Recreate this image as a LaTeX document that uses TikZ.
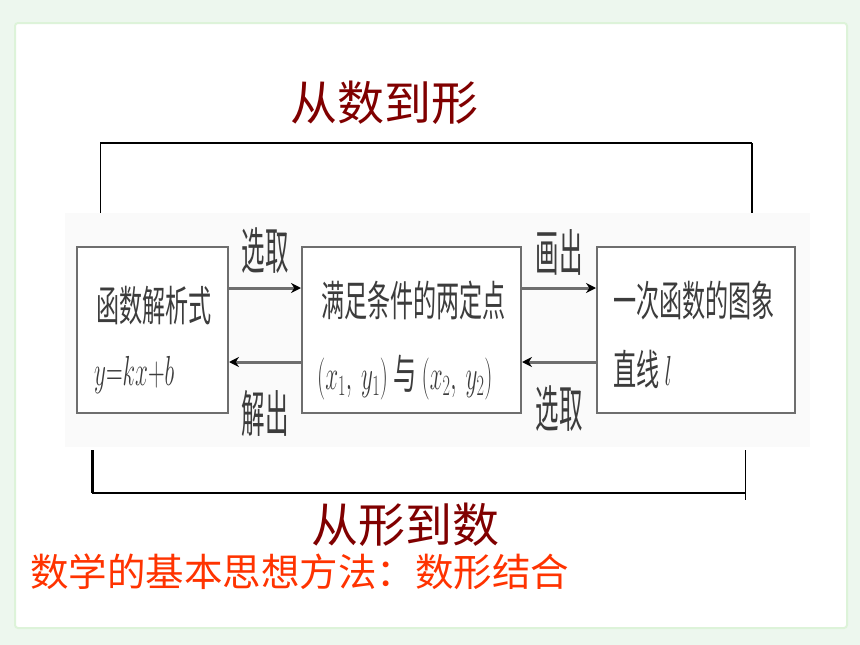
\RequirePackage{fix-cm}
\documentclass[tikz,border=0pt]{standalone}
\usepackage{fontspec}
\usepackage{graphicx}
\newfontfamily\cjk{Noto Sans CJK SC}
\usetikzlibrary{arrows.meta}
\usetikzlibrary{positioning}

\definecolor{pagegreen}{HTML}{EDF7EE}
\definecolor{panelline}{HTML}{DDF3D9}
\definecolor{titlered}{HTML}{800000}
\definecolor{notered}{HTML}{FF3300}
\definecolor{boxgray}{HTML}{6E6E6E}
\definecolor{textgray}{HTML}{3C3C3C}

\newcommand{\squeeze}[1]{\scalebox{0.55}[1]{#1}}
\newcommand{\squeezemore}[1]{\scalebox{0.47}[1]{#1}}

\tikzset{
    stagebox/.style={draw=boxgray,line width=2pt,fill=white,minimum height=166pt},
    stagetext/.style={anchor=west,inner sep=0pt,text=textgray,font=\cjk\fontsize{42}{46}\selectfont},
    flowarrow/.style={draw=boxgray,line width=3pt,-{Stealth[black,length=10pt,width=10pt]}},
    flowlabel/.style={inner sep=0pt,text=textgray,font=\cjk\fontsize{50}{54}\selectfont},
    bigtitle/.style={text=titlered,font=\cjk\fontsize{47}{52}\selectfont},
}

\begin{document}
\begin{tikzpicture}[x=1pt,y=-1pt]
        \useasboundingbox (0,0) rectangle (860,645);
        \fill[pagegreen] (0,0) rectangle (860,645);
        \draw[panelline,line width=2pt,fill=white,rounded corners=3pt] (15,23) rectangle (847,628);
        \fill[black!2] (65,213) rectangle (810,447);

        % the three stages
        \node[stagebox,minimum width=151pt] (formula) at (152.5,329.5) {};
        \node[stagebox,minimum width=219pt] (points) at (411.5,329.5) {};
        \node[stagebox,minimum width=198pt] (graph) at (696,329.5) {};

        \node[stagetext] (formulaA) at ([xshift=20pt,yshift=24pt]formula.west) {\squeeze{函数解析式}};
        \node[stagetext] (formulaB) at ([xshift=18pt,yshift=-45pt]formula.west) {\squeeze{$y{=}kx{+}b$}};
        \node[stagetext] (pointsA) at ([xshift=20pt,yshift=29pt]points.west) {\squeeze{满足条件的两定点}};
        \node[stagetext] (pointsB) at ([xshift=16pt,yshift=-48pt]points.west) {\squeeze{$(x_1,\ y_1)$ 与 $(x_2,\ y_2)$}};
        \node[stagetext] (graphA) at ([xshift=17pt,yshift=29pt]graph.west) {\squeeze{一次函数的图象}};
        \node[stagetext] (graphB) at ([xshift=17pt,yshift=-40pt]graph.west) {\squeeze{直线 $l$}};

        % arrows between the stages
        \draw[flowarrow] ([yshift=41.5pt]formula.east) -- node[flowlabel,yshift=37pt] {\squeezemore{选取}} ([yshift=41.5pt]points.west);
        \draw[flowarrow] ([yshift=-32.5pt]points.west) -- node[flowlabel,yshift=-52pt] {\squeezemore{解出}} ([yshift=-32.5pt]formula.east);
        \draw[flowarrow] ([yshift=41.5pt]points.east) -- node[flowlabel,yshift=36pt] {\squeezemore{画出}} ([yshift=41.5pt]graph.west);
        \draw[flowarrow] ([yshift=-32.5pt]graph.west) -- node[flowlabel,yshift=-47pt] {\squeezemore{选取}} ([yshift=-32.5pt]points.east);

        % brackets
        \coordinate (topL) at (100,213);
        \coordinate (topR) at (752,213);
        \coordinate (botL) at (92,450);
        \coordinate (botR) at (745,500);
        \draw[line width=0.8pt] (topL) -- (100,143);
        \draw[line width=1.2pt] (100,143) -- (752,143);
        \draw[line width=2.6pt] (752,143) -- (topR);
        \draw[line width=3pt] (botL) -- (92,493);
        \draw[line width=1.5pt] (92,493) -- (745,493);
        \draw[line width=0.8pt] (745,450) -- (botR);

        \node[bigtitle] (toshape) at (384,103) {从数到形};
        \node[bigtitle] (tonumber) at (405,525) {从形到数};
        \node[text=notered,font=\cjk\fontsize{38.5}{42}\selectfont,anchor=west,inner sep=0pt] (method) at (30,572) {数学的基本思想方法：数形结合};
\end{tikzpicture}
\end{document}
